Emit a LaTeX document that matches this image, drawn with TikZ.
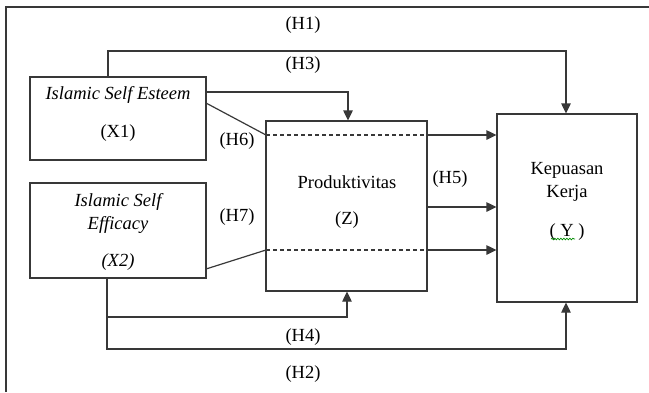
\documentclass[tikz,border=0pt]{standalone}
\usepackage{fontspec}
\setmainfont{Liberation Serif}
\usetikzlibrary{arrows.meta,decorations.pathmorphing}
\begin{document}
\begin{tikzpicture}[x=1pt,y=-1pt,
  ln/.style={draw=black!78,line width=1.2pt},
  arr/.style={ln,-{Triangle[length=10pt,width=9.5pt]}},
  dsh/.style={ln,dash pattern=on 4pt off 3pt},
  boxnode/.style={ln,fill=none,inner sep=0pt},
  txt/.style={inner sep=0pt,font=\fontsize{18.5}{22}\selectfont},
  itxt/.style={txt,font=\fontsize{18.5}{22}\selectfont\itshape}]
\useasboundingbox (0,0) rectangle (649,392);
% frame
\coordinate (fbl) at (6,392);
\coordinate (ftl) at (6,7);
\coordinate (ftr) at (649,7);
\draw[ln] (fbl) -- (ftl) -- (ftr);
% boxes
\node[boxnode,minimum width=176pt,minimum height=83pt] (x1) at (118,118.5) {};
\node[boxnode,minimum width=176pt,minimum height=95pt] (x2) at (118,230.5) {};
\node[boxnode,minimum width=161pt,minimum height=170pt] (z) at (346.5,206) {};
\node[boxnode,minimum width=140pt,minimum height=188pt] (y) at (567,208) {};
% box texts
\node[itxt] (t1a) at (118,95) {Islamic Self Esteem};
\node[txt] (t1b) at (118,133) {(X1)};
\node[itxt] (t2a) at (118,202) {Islamic Self};
\node[itxt] (t2b) at (118,225) {Efficacy};
\node[itxt] (t2c) at (118,262) {(X2)};
\node[txt] (tza) at (347,182) {Produktivitas};
\node[txt] (tzb) at (347,220) {(Z)};
\node[txt] (tya) at (567,170) {Kepuasan};
\node[txt] (tyb) at (567,193) {Kerja};
\node[txt] (tyc) at (567,232) {( Y )};
\coordinate (wl) at (551,239);
\coordinate (wr) at (575,239);
\draw[green!55!black,line width=0.7pt,decorate,decoration={snake,segment length=3pt,amplitude=0.8pt}] (wl) -- (wr);
% H1 / H3 top connector
\coordinate (h1a) at (108,51);
\coordinate (h1b) at (566,51);
\draw[arr] (x1.north -| h1a) -- (h1a) -- (h1b) -- (h1b |- y.north);
% X1 -> Z
\coordinate (c1) at (348,92);
\draw[arr] (x1.east |- c1) -- (c1) -- (c1 |- z.north);
% H6
\coordinate (h6a) at (206,103);
\coordinate (h6b) at (266,135);
\coordinate (h6c) at (427,135);
\draw[ln] (h6a) -- (h6b);
\draw[dsh] (h6b) -- (h6c);
\draw[arr] (h6c) -- (y.west |- h6c);
% H5
\coordinate (h5) at (427,207);
\draw[arr] (z.east |- h5) -- (y.west |- h5);
% H7
\coordinate (h7a) at (206,269);
\coordinate (h7b) at (266,250);
\coordinate (h7c) at (427,250);
\draw[ln] (h7a) -- (h7b);
\draw[dsh] (h7b) -- (h7c);
\draw[arr] (h7c) -- (y.west |- h7c);
% X2 bottom connectors
\coordinate (b1) at (107,349);
\coordinate (b2) at (566,349);
\coordinate (b3) at (107,317);
\coordinate (b4) at (347,317);
\draw[arr] (x2.south -| b1) -- (b1) -- (b2) -- (b2 |- y.south);
\draw[arr] (b3) -- (b4) -- (b4 |- z.south);
% labels
\node[txt] (lh1) at (303,25) {(H1)};
\node[txt] (lh3) at (303,65) {(H3)};
\node[txt] (lh6) at (237,141) {(H6)};
\node[txt] (lh7) at (237,217) {(H7)};
\node[txt] (lh5) at (450,179) {(H5)};
\node[txt] (lh4) at (303,337) {(H4)};
\node[txt] (lh2) at (303,374) {(H2)};
\end{tikzpicture}
\end{document}
